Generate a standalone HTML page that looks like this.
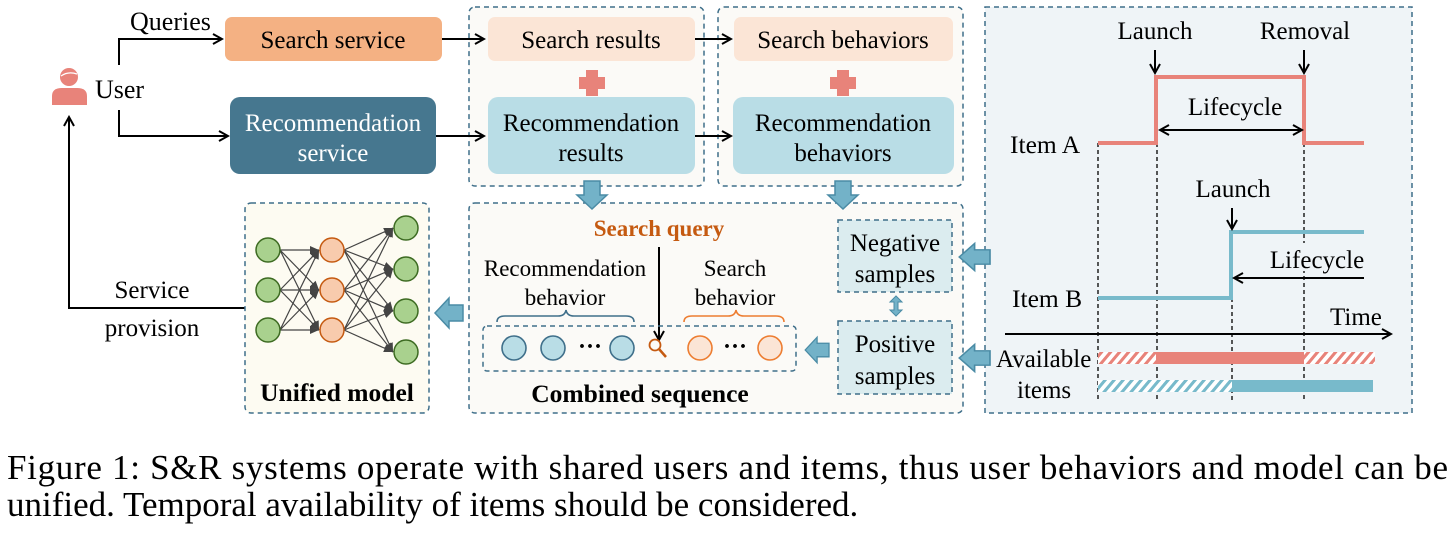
<!DOCTYPE html>
<html><head><meta charset="utf-8"><style>body{margin:0;background:#fff}svg{display:block}text{font-family:"Liberation Serif",serif}</style></head><body>
<svg width="1456" height="538" viewBox="0 0 1456 538" xmlns="http://www.w3.org/2000/svg">
<defs>
<marker id="a" markerWidth="12" markerHeight="12" refX="10" refY="6" orient="auto" markerUnits="userSpaceOnUse"><path d="M1,1 L10,6 L1,11" fill="none" stroke="#000" stroke-width="2"/></marker>
<marker id="as" markerWidth="12" markerHeight="12" refX="10" refY="6" orient="auto-start-reverse" markerUnits="userSpaceOnUse"><path d="M1,1 L10,6 L1,11" fill="none" stroke="#000" stroke-width="2"/></marker>
<marker id="g" markerWidth="10" markerHeight="10" refX="9" refY="5" orient="auto" markerUnits="userSpaceOnUse"><path d="M0,1 L9,5 L0,9z" fill="#444"/></marker>
<pattern id="hr" width="9" height="12" patternUnits="userSpaceOnUse" patternTransform="skewX(-40)"><rect width="9" height="12" fill="#fff"/><rect width="4" height="12" fill="#e8837a"/></pattern>
<pattern id="hb" width="9" height="12" patternUnits="userSpaceOnUse" patternTransform="skewX(-40)"><rect width="9" height="12" fill="#fff"/><rect width="4" height="12" fill="#78bacb"/></pattern>
<g id="bl"><path d="M0,-8 L14,-8 L14,-15 L28,0 L14,15 L14,8 L0,8z" fill="#73b2c8" stroke="#4a8ba5" stroke-width="1.5"/></g>
</defs>

<!-- left side -->
<text x="130" y="30" font-size="26">Queries</text>
<rect x="225" y="17" width="217" height="44" rx="7" fill="#f4b183"/>
<text x="333" y="48" font-size="25" text-anchor="middle">Search service</text>
<rect x="230" y="97" width="206" height="77" rx="10" fill="#46778f"/>
<text x="333" y="131" font-size="25" text-anchor="middle" fill="#fff">Recommendation</text>
<text x="333" y="161" font-size="25" text-anchor="middle" fill="#fff">service</text>
<circle cx="69" cy="77" r="9" fill="#e8837a"/>
<path d="M61,76 Q68,71 77,74" stroke="#fff" stroke-width="1.2" fill="none"/>
<path d="M52,105 L52,96 Q52,88 62,88 L77,88 Q87,88 87,96 L87,105z" fill="#e8837a"/>
<text x="95" y="98" font-size="26">User</text>
<path d="M119,65 L119,39 L222,39" fill="none" stroke="#000" stroke-width="2" marker-end="url(#a)"/>
<path d="M119,110 L119,136 L228,136" fill="none" stroke="#000" stroke-width="2" marker-end="url(#a)"/>
<path d="M245,308 L69,308 L69,117" fill="none" stroke="#000" stroke-width="2" marker-end="url(#a)"/>
<text x="152" y="298" font-size="25" text-anchor="middle">Service</text>
<text x="152" y="336" font-size="25" text-anchor="middle">provision</text>

<!-- unified model -->
<rect x="245" y="203" width="184" height="210" rx="6" fill="#fdfbf2" stroke="#3f6f8a" stroke-width="1.5" stroke-dasharray="5,4"/>
<g stroke="#444" stroke-width="1.2" marker-end="url(#g)">
<line x1="280" y1="250" x2="319" y2="250"/><line x1="280" y1="250" x2="319" y2="290"/><line x1="280" y1="250" x2="319" y2="330"/>
<line x1="280" y1="290" x2="319" y2="250"/><line x1="280" y1="290" x2="319" y2="290"/><line x1="280" y1="290" x2="319" y2="330"/>
<line x1="280" y1="330" x2="319" y2="250"/><line x1="280" y1="330" x2="319" y2="290"/><line x1="280" y1="330" x2="319" y2="330"/>
<line x1="344" y1="250" x2="393" y2="228"/><line x1="344" y1="250" x2="393" y2="269"/><line x1="344" y1="250" x2="393" y2="311"/><line x1="344" y1="250" x2="393" y2="352"/>
<line x1="344" y1="290" x2="393" y2="228"/><line x1="344" y1="290" x2="393" y2="269"/><line x1="344" y1="290" x2="393" y2="311"/><line x1="344" y1="290" x2="393" y2="352"/>
<line x1="344" y1="330" x2="393" y2="228"/><line x1="344" y1="330" x2="393" y2="269"/><line x1="344" y1="330" x2="393" y2="311"/><line x1="344" y1="330" x2="393" y2="352"/>
</g>
<g fill="#a9d18e" stroke="#3d6b22" stroke-width="1.5">
<circle cx="268" cy="250" r="12"/><circle cx="268" cy="290" r="12"/><circle cx="268" cy="330" r="12"/>
<circle cx="406" cy="228" r="12"/><circle cx="406" cy="269" r="12"/><circle cx="406" cy="311" r="12"/><circle cx="406" cy="352" r="12"/>
</g>
<g fill="#f8cbad" stroke="#c55a11" stroke-width="1.5">
<circle cx="332" cy="250" r="12"/><circle cx="332" cy="290" r="12"/><circle cx="332" cy="330" r="12"/>
</g>
<text x="337" y="401" font-size="25.5" font-weight="bold" text-anchor="middle">Unified model</text>
<use href="#bl" transform="translate(463,313) scale(-1,1)"/>

<!-- top middle -->
<rect x="469" y="7" width="235" height="179" rx="6" fill="#fbfaf7" stroke="#3f6f8a" stroke-width="1.5" stroke-dasharray="5,4"/>
<rect x="718" y="7" width="245" height="179" rx="6" fill="#fbfaf7" stroke="#3f6f8a" stroke-width="1.5" stroke-dasharray="5,4"/>
<rect x="488" y="17" width="207" height="44" rx="7" fill="#fbe5d6"/>
<text x="591" y="48" font-size="25" text-anchor="middle">Search results</text>
<rect x="488" y="97" width="207" height="77" rx="10" fill="#b9dde6"/>
<text x="591" y="131" font-size="25" text-anchor="middle">Recommendation</text>
<text x="591" y="161" font-size="25" text-anchor="middle">results</text>
<rect x="734" y="17" width="219" height="44" rx="7" fill="#fbe5d6"/>
<text x="843" y="48" font-size="25" text-anchor="middle">Search behaviors</text>
<rect x="733" y="97" width="221" height="77" rx="10" fill="#b9dde6"/>
<text x="843" y="131" font-size="25" text-anchor="middle">Recommendation</text>
<text x="843" y="161" font-size="25" text-anchor="middle">behaviors</text>
<path d="M586,70 h12 v7 h7 v12 h-7 v7 h-12 v-7 h-7 v-12 h7z" fill="#e8837a"/>
<path d="M837,70 h12 v7 h7 v12 h-7 v7 h-12 v-7 h-7 v-12 h7z" fill="#e8837a"/>
<path d="M442,39 L484,39" stroke="#000" stroke-width="2" marker-end="url(#a)"/>
<path d="M436,136 L484,136" stroke="#000" stroke-width="2" marker-end="url(#a)"/>
<path d="M695,39 L731,39" stroke="#000" stroke-width="2" marker-end="url(#a)"/>
<path d="M695,136 L731,136" stroke="#000" stroke-width="2" marker-end="url(#a)"/>

<!-- bottom middle -->
<rect x="469" y="203" width="494" height="210" rx="6" fill="#fbfaf7" stroke="#3f6f8a" stroke-width="1.5" stroke-dasharray="5,4"/>
<use href="#bl" transform="translate(592,181) rotate(90)"/>
<use href="#bl" transform="translate(843,181) rotate(90)"/>
<text x="659" y="236" font-size="23" font-weight="bold" fill="#c55a11" text-anchor="middle">Search query</text>
<path d="M659,247 L659,340" stroke="#000" stroke-width="2" marker-end="url(#a)"/>
<text x="565" y="276" font-size="23" text-anchor="middle">Recommendation</text>
<text x="565" y="305" font-size="23" text-anchor="middle">behavior</text>
<text x="735" y="276" font-size="23" text-anchor="middle">Search</text>
<text x="735" y="305" font-size="23" text-anchor="middle">behavior</text>
<path d="M497,322 Q497,316 505,316 L558,316 Q565,316 566,310 Q567,316 574,316 L626,316 Q634,316 634,322" fill="none" stroke="#3f6f8a" stroke-width="1.6"/>
<path d="M684,322 Q684,316 692,316 L728,316 Q735,316 736,310 Q737,316 744,316 L776,316 Q784,316 784,322" fill="none" stroke="#ed7d31" stroke-width="1.6"/>
<rect x="483" y="326" width="313" height="45" rx="4" fill="none" stroke="#3f6f8a" stroke-width="1.5" stroke-dasharray="5,4"/>
<g fill="#b9dde6" stroke="#3f6f8a" stroke-width="1.6"><circle cx="514" cy="348" r="12"/><circle cx="553" cy="348" r="12"/><circle cx="622" cy="348" r="12"/></g>
<g fill="#fbe5d6" stroke="#ed7d31" stroke-width="1.6"><circle cx="700" cy="348" r="12"/><circle cx="770" cy="348" r="12"/></g>
<text x="590" y="354" font-size="24" font-weight="bold" text-anchor="middle">···</text>
<text x="735" y="354" font-size="24" font-weight="bold" text-anchor="middle">···</text>
<circle cx="655" cy="345" r="5.5" fill="none" stroke="#c55a11" stroke-width="1.8"/>
<line x1="659" y1="349" x2="666" y2="357" stroke="#c55a11" stroke-width="2.5"/>
<text x="640" y="402" font-size="25.5" font-weight="bold" text-anchor="middle">Combined sequence</text>
<rect x="838" y="220" width="114" height="72" fill="#dbecef" stroke="#3f6f8a" stroke-width="1.5" stroke-dasharray="5,4"/>
<text x="895" y="251" font-size="25" text-anchor="middle">Negative</text>
<text x="895" y="282" font-size="25" text-anchor="middle">samples</text>
<rect x="838" y="321" width="114" height="73" fill="#dbecef" stroke="#3f6f8a" stroke-width="1.5" stroke-dasharray="5,4"/>
<text x="895" y="352" font-size="25" text-anchor="middle">Positive</text>
<text x="895" y="384" font-size="25" text-anchor="middle">samples</text>
<path d="M896,296 l-6,6 h4 v8 h-4 l6,6 l6,-6 h-4 v-8 h4z" fill="#73b2c8" stroke="#4a8ba5"/>
<use href="#bl" transform="translate(829,350) scale(-0.85,0.85)"/>

<!-- right panel -->
<rect x="985" y="7" width="427" height="406" fill="#eff4f7" stroke="#3f6f8a" stroke-width="1.5" stroke-dasharray="5,4"/>
<use href="#bl" transform="translate(990,257) scale(-1.1,0.9)"/>
<use href="#bl" transform="translate(990,358) scale(-1.1,0.9)"/>
<g stroke="#000" stroke-width="1.3" stroke-dasharray="4,3">
<line x1="1098" y1="143" x2="1098" y2="402"/><line x1="1157" y1="143" x2="1157" y2="402"/><line x1="1232" y1="298" x2="1232" y2="402"/><line x1="1304" y1="143" x2="1304" y2="402"/>
</g>
<path d="M1098,143 L1156,143 L1156,77 L1304,77 L1304,143 L1364,143" fill="none" stroke="#e8837a" stroke-width="4"/>
<path d="M1098,298 L1231,298 L1231,232 L1364,232" fill="none" stroke="#78bacb" stroke-width="4"/>
<text x="1010" y="153" font-size="25.5">Item A</text>
<text x="1012" y="307" font-size="25.5">Item B</text>
<text x="1155" y="39" font-size="25" text-anchor="middle">Launch</text>
<text x="1305" y="39" font-size="25" text-anchor="middle">Removal</text>
<path d="M1155,50 L1155,73" stroke="#000" stroke-width="2" marker-end="url(#a)"/>
<path d="M1304,50 L1304,73" stroke="#000" stroke-width="2" marker-end="url(#a)"/>
<text x="1235" y="115" font-size="25" text-anchor="middle">Lifecycle</text>
<path d="M1160,130 L1302,130" stroke="#000" stroke-width="2" marker-start="url(#as)" marker-end="url(#a)"/>
<text x="1233" y="197" font-size="25" text-anchor="middle">Launch</text>
<path d="M1232,208 L1232,229" stroke="#000" stroke-width="2" marker-end="url(#a)"/>
<rect x="1267" y="243" width="100" height="28" fill="#eff4f7"/>
<text x="1317" y="268" font-size="25" text-anchor="middle">Lifecycle</text>
<path d="M1364,278 L1234,278" stroke="#000" stroke-width="2" marker-end="url(#a)"/>
<text x="1330" y="325" font-size="25">Time</text>
<path d="M1005,334 L1391,334" stroke="#000" stroke-width="2" marker-end="url(#a)"/>
<text x="996" y="367" font-size="25">Available</text>
<text x="1017" y="398" font-size="25">items</text>
<rect x="1098" y="352" width="58" height="12" fill="url(#hr)"/>
<rect x="1156" y="352" width="148" height="12" fill="#e8837a"/>
<rect x="1304" y="352" width="71" height="12" fill="url(#hr)"/>
<rect x="1098" y="380" width="134" height="12" fill="url(#hb)"/>
<rect x="1232" y="380" width="141" height="12" fill="#78bacb"/>

<!-- caption -->
<text x="7" y="479" font-size="35" textLength="1441" lengthAdjust="spacing">Figure 1: S&amp;R systems operate with shared users and items, thus user behaviors and model can be</text>
<text x="7" y="516" font-size="35">unified. Temporal availability of items should be considered.</text>
</svg>
</body></html>
